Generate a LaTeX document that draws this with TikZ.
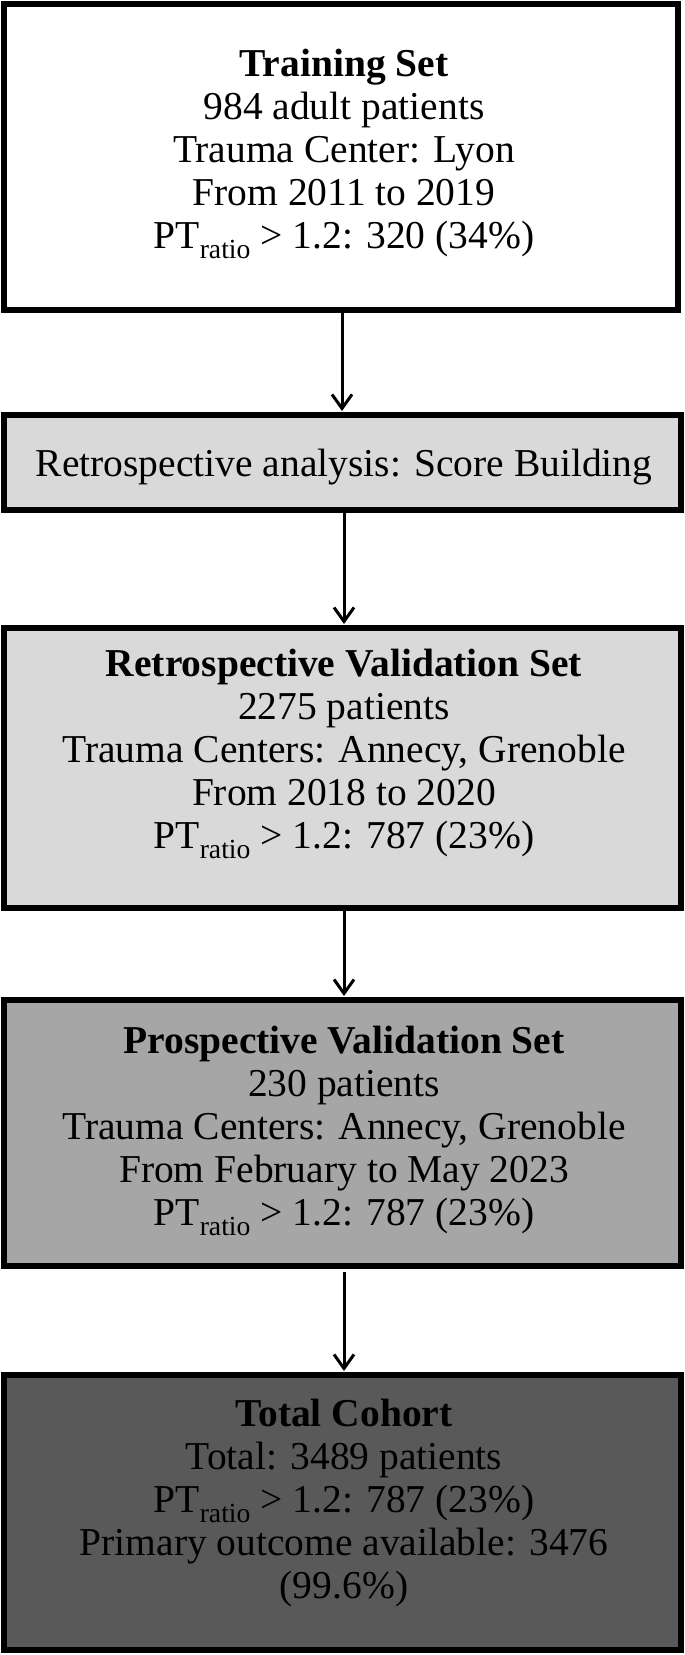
\documentclass[tikz,border=0pt]{standalone}
\usepackage{fontspec}
\setmainfont{Liberation Serif}
\usetikzlibrary{arrows.meta}
\begin{document}
\begin{tikzpicture}[x=1pt,y=-1pt,
  box/.style={draw=black,line width=6pt},
  lbl/.style={align=center,font=\fontsize{39.5}{43}\selectfont,inner sep=0pt},
  arr/.style={line width=3pt,-{Straight Barb[length=14pt,width=20pt,line width=3pt]}}]
\useasboundingbox (0,0) rectangle (685,1655);
\definecolor{g1}{HTML}{D9D9D9}
\definecolor{g2}{HTML}{A6A6A6}
\definecolor{g3}{HTML}{595959}
\newcommand{\ptr}{PT\textsubscript{ratio}}
\draw[box,fill=white] (4,4) rectangle (678,310);
\node[lbl] (b1) at (344,154) {\textbf{Training Set}\\984 adult patients\\Trauma Center: Lyon\\From 2011 to 2019\\\ptr{} > 1.2: 320 (34\%)};
\draw[box,fill=g1] (4,415) rectangle (681,510);
\node[lbl] (b2) at (344,467) {Retrospective analysis: Score Building};
\draw[box,fill=g1] (4,628) rectangle (681,908);
\node[lbl] (b3) at (344,754) {\textbf{Retrospective Validation Set}\\2275 patients\\Trauma Centers: Annecy, Grenoble\\From 2018 to 2020\\\ptr{} > 1.2: 787 (23\%)};
\draw[box,fill=g2] (4,1000) rectangle (681,1266);
\node[lbl] (b4) at (344,1131) {\textbf{Prospective Validation Set}\\230 patients\\Trauma Centers: Annecy, Grenoble\\From February to May 2023\\\ptr{} > 1.2: 787 (23\%)};
\draw[box,fill=g3] (4,1375) rectangle (681,1650);
\node[lbl] (b5) at (344,1503) {\textbf{Total Cohort}\\Total: 3489 patients\\\ptr{} > 1.2: 787 (23\%)\\Primary outcome available: 3476\\(99.6\%)};
\coordinate (a1s) at (342,313); \coordinate (a1e) at (342,411);
\coordinate (a2s) at (344,513); \coordinate (a2e) at (344,624);
\coordinate (a3s) at (344,911); \coordinate (a3e) at (344,996);
\coordinate (a4s) at (344,1272); \coordinate (a4e) at (344,1371);
\draw[arr] (a1s) -- (a1e);
\draw[arr] (a2s) -- (a2e);
\draw[arr] (a3s) -- (a3e);
\draw[arr] (a4s) -- (a4e);
\end{tikzpicture}
\end{document}
